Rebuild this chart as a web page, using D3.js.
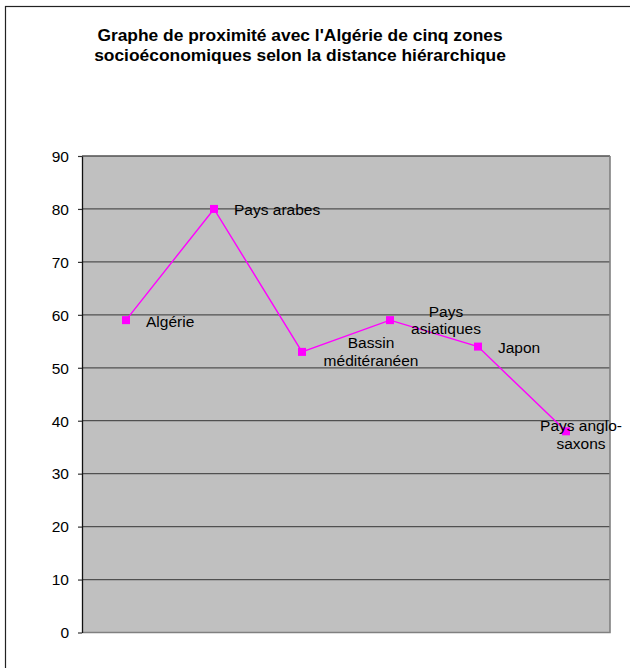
<!DOCTYPE html>
<html>
<head>
<meta charset="utf-8">
<script src="https://cdn.jsdelivr.net/npm/d3@7"></script>
<style>
  body { margin: 0; background: #fff; }
  svg { display: block; font-family: "Liberation Sans", Arial, sans-serif; }
</style>
</head>
<body>
<svg id="chart" width="630" height="668"></svg>
<script>
// data
var zones = ["Algérie", "Pays arabes", "Bassin méditéranéen", "Pays asiatiques", "Japon", "Pays anglo-saxons"];
var proximite = [59, 80, 53, 59, 54, 38];
// label text as it wraps in the picture
var labelLines = [["Algérie"], ["Pays arabes"], ["Bassin", "méditéranéen"], ["Pays", "asiatiques"], ["Japon"], ["Pays anglo-", "saxons"]];
var yTicks = [0, 10, 20, 30, 40, 50, 60, 70, 80, 90];
var titleLines = ["Graphe de proximité avec l'Algérie de cinq zones", "socioéconomiques selon la distance hiérarchique"];

// label placement (dx from point, anchor, dy of first baseline)
var labelPos = [
  {dx: 20, anchor: "start", dy: 6.5},
  {dx: 20, anchor: "start", dy: 6},
  {dx: 69, anchor: "middle", dy: -3.5},
  {dx: 56, anchor: "middle", dy: -3.5},
  {dx: 20, anchor: "start", dy: 6.5},
  {dx: 15, anchor: "middle", dy: 0}
];

var svg = d3.select("#chart");
var plot = {left: 82, right: 610, top: 156, bottom: 632.5};

// outer frame (only top/left edges show in the picture)
svg.append("rect")
  .attr("x", 5.5).attr("y", 6.5).attr("width", 700).attr("height", 700)
  .attr("fill", "none").attr("stroke", "#222").attr("stroke-width", 1.2);

// title
svg.append("g").selectAll("text")
  .data(titleLines)
  .enter().append("text")
  .attr("x", 300)
  .attr("y", function(d, i){ return 41 + i * 20; })
  .attr("text-anchor", "middle")
  .attr("font-size", "17.4px")
  .attr("font-weight", "bold")
  .attr("fill", "#000")
  .text(function(d){ return d; });

var x = d3.scaleBand().domain(zones).range([plot.left, plot.right]);
var y = d3.scaleLinear().domain([0, 90]).range([plot.bottom, plot.top]);
function cx(d){ return x(d) + x.bandwidth() / 2; }

// plot background
svg.append("rect")
  .attr("x", plot.left).attr("y", plot.top)
  .attr("width", plot.right - plot.left).attr("height", plot.bottom - plot.top)
  .attr("fill", "#c0c0c0");

// gridlines
svg.append("g").selectAll("line")
  .data(yTicks.filter(function(t){ return t > 0; }))
  .enter().append("line")
  .attr("x1", plot.left).attr("x2", plot.right)
  .attr("y1", function(d){ return y(d); }).attr("y2", function(d){ return y(d); })
  .attr("stroke", "#505050").attr("stroke-width", 1.3);

// right and bottom edge of plot area
svg.append("path")
  .attr("d", "M" + plot.right + "," + plot.top + "V" + plot.bottom + "H" + plot.left)
  .attr("fill", "none").attr("stroke", "#808080").attr("stroke-width", 1.6);

// y axis
var yAxis = d3.axisLeft(y).tickValues(yTicks).tickSize(4).tickPadding(9).tickSizeOuter(0);
var ag = svg.append("g").attr("transform", "translate(" + plot.left + ",0)").call(yAxis);
ag.select(".domain").attr("stroke", "#111").attr("stroke-width", 1.3);
ag.selectAll(".tick line").attr("stroke", "#333").attr("stroke-width", 1.2);
ag.selectAll(".tick text")
  .attr("font-size", "15.5px").attr("font-family", "Liberation Sans, Arial, sans-serif")
  .attr("fill", "#000").attr("dy", "0.34em");

// line
var line = d3.line()
  .x(function(d, i){ return cx(zones[i]); })
  .y(function(d){ return y(d); });

svg.append("path")
  .datum(proximite)
  .attr("d", line)
  .attr("fill", "none").attr("stroke", "#ff00ff").attr("stroke-width", 1.4);

// markers
svg.append("g").selectAll("rect")
  .data(proximite)
  .enter().append("rect")
  .attr("x", function(d, i){ return cx(zones[i]) - 4; })
  .attr("y", function(d){ return y(d) - 4; })
  .attr("width", 8).attr("height", 8)
  .attr("fill", "#ff00ff");

// data labels
var lbl = svg.append("g").selectAll("text")
  .data(proximite)
  .enter().append("text")
  .attr("font-size", "15.5px")
  .attr("fill", "#000")
  .attr("text-anchor", function(d, i){ return labelPos[i].anchor; })
  .attr("transform", function(d, i){
    return "translate(" + (cx(zones[i]) + labelPos[i].dx) + "," + (y(d) + labelPos[i].dy) + ")";
  });

lbl.selectAll("tspan")
  .data(function(d, i){ return labelLines[i]; })
  .enter().append("tspan")
  .attr("x", 0)
  .attr("dy", function(d, j){ return j === 0 ? 0 : 17.5; })
  .text(function(d){ return d; });
</script>
</body>
</html>
